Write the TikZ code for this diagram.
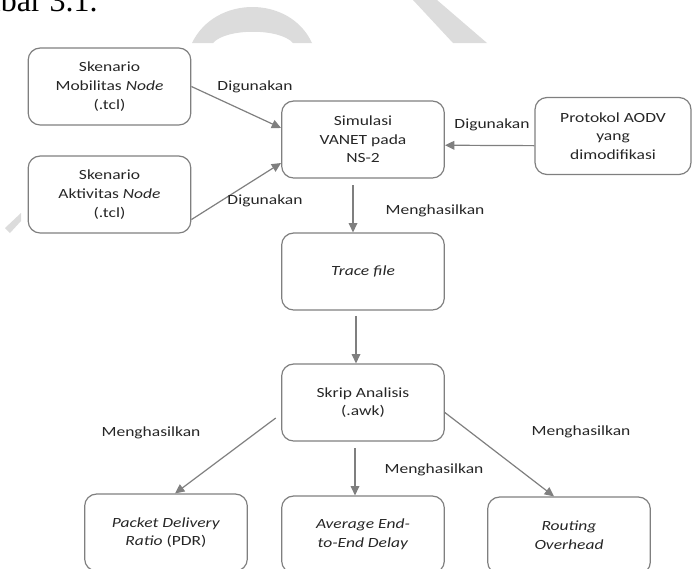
\documentclass[tikz,border=0pt]{standalone}
\usepackage{fontspec}
\setmainfont{Carlito}[FakeStretch=1.25]
\newfontfamily\pagefont{Liberation Serif}
\usetikzlibrary{arrows.meta}
\definecolor{edgegray}{HTML}{7F7F7F}
\definecolor{wmark}{HTML}{DCDCDC}
\definecolor{txt}{HTML}{262626}

\begin{document}
\begin{tikzpicture}[x=0.75pt,y=-0.75pt,
    box/.style={draw=edgegray, line width=0.9pt, rounded corners=9pt, minimum width=122pt,
        minimum height=57.75pt, align=center, text=txt, inner sep=0pt,
        font=\fontsize{10.5}{14}\selectfont},
    lbl/.style={text=txt, inner sep=0pt, font=\fontsize{10.5}{14}\selectfont},
    arr/.style={draw=edgegray, line width=0.9pt, -{Triangle[length=7pt,width=6.5pt]}}]
        \useasboundingbox (0,0) rectangle (692,568);
        % watermark and page text behind the figure
        \fill[wmark] (192,43) .. controls (215,-5) and (290,-5) .. (312,43) -- (293,43)
            .. controls (280,28) and (226,28) .. (213,43) -- cycle;
        \fill[wmark] (413,0) -- (437,0) -- (487,43) -- (453,43) -- cycle;
        \fill[wmark] (5,228) -- (10,233) -- (21,221) -- (21,213) -- cycle;
        \node[anchor=base east, inner sep=0pt, font=\pagefont\fontsize{24}{28}\selectfont] (caption) at (98,11) {Gambar 3.1.};
        % boxes
        \node[box] (mob) at (109.5,86.5) {Skenario\\Mobilitas \textit{Node}\\(.tcl)};
        \node[box] (akt) at (109.5,194.5) {Skenario\\Aktivitas \textit{Node}\\(.tcl)};
        \node[box] (sim) at (363,139.5) {Simulasi\\VANET pada\\NS-2};
        \node[box, minimum width=117pt] (aodv) at (613,136) {Protokol AODV\\yang\\dimodifikasi};
        \node[box] (trace) at (363,271.5) {\textit{Trace file}};
        \node[box] (skrip) at (363,402.5) {Skrip Analisis\\(.awk)};
        \node[box] (pdr) at (166,532.5) {\textit{Packet Delivery}\\\textit{Ratio} (PDR)};
        \node[box] (delay) at (363,534.5) {\textit{Average End-}\\\textit{to-End Delay}};
        \node[box] (routing) at (569,535.5) {\textit{Routing}\\\textit{Overhead}};
        % connectors
        \draw[arr] (mob.east) -- (sim.172);
        \draw[arr] (akt.-17) -- (sim.196);
        \draw[arr] (aodv.187) -- (sim.-4);
        \draw[arr, shorten <=5pt] ([xshift=-7.5pt]sim.south) -- ([xshift=-7.5pt]trace.north);
        \draw[arr, shorten <=4pt] ([xshift=-5.25pt]trace.south) -- ([xshift=-5.25pt]skrip.north);
        \draw[arr, shorten <=5pt] ([xshift=-6pt]skrip.south) -- ([xshift=-6pt]delay.north);
        \draw[arr, shorten <=5pt] (skrip.188) -- (pdr.77);
        \draw[arr] (skrip.-7) -- (routing.111);
        % labels
        \node[lbl] (use1) at (255,87) {Digunakan};
        \node[lbl] (use2) at (265,201) {Digunakan};
        \node[lbl] (use3) at (492,125) {Digunakan};
        \node[lbl] (out1) at (435,211) {Menghasilkan};
        \node[lbl] (out2) at (151,433) {Menghasilkan};
        \node[lbl] (out3) at (434,470) {Menghasilkan};
        \node[lbl] (out4) at (581,432) {Menghasilkan};
\end{tikzpicture}
\end{document}
